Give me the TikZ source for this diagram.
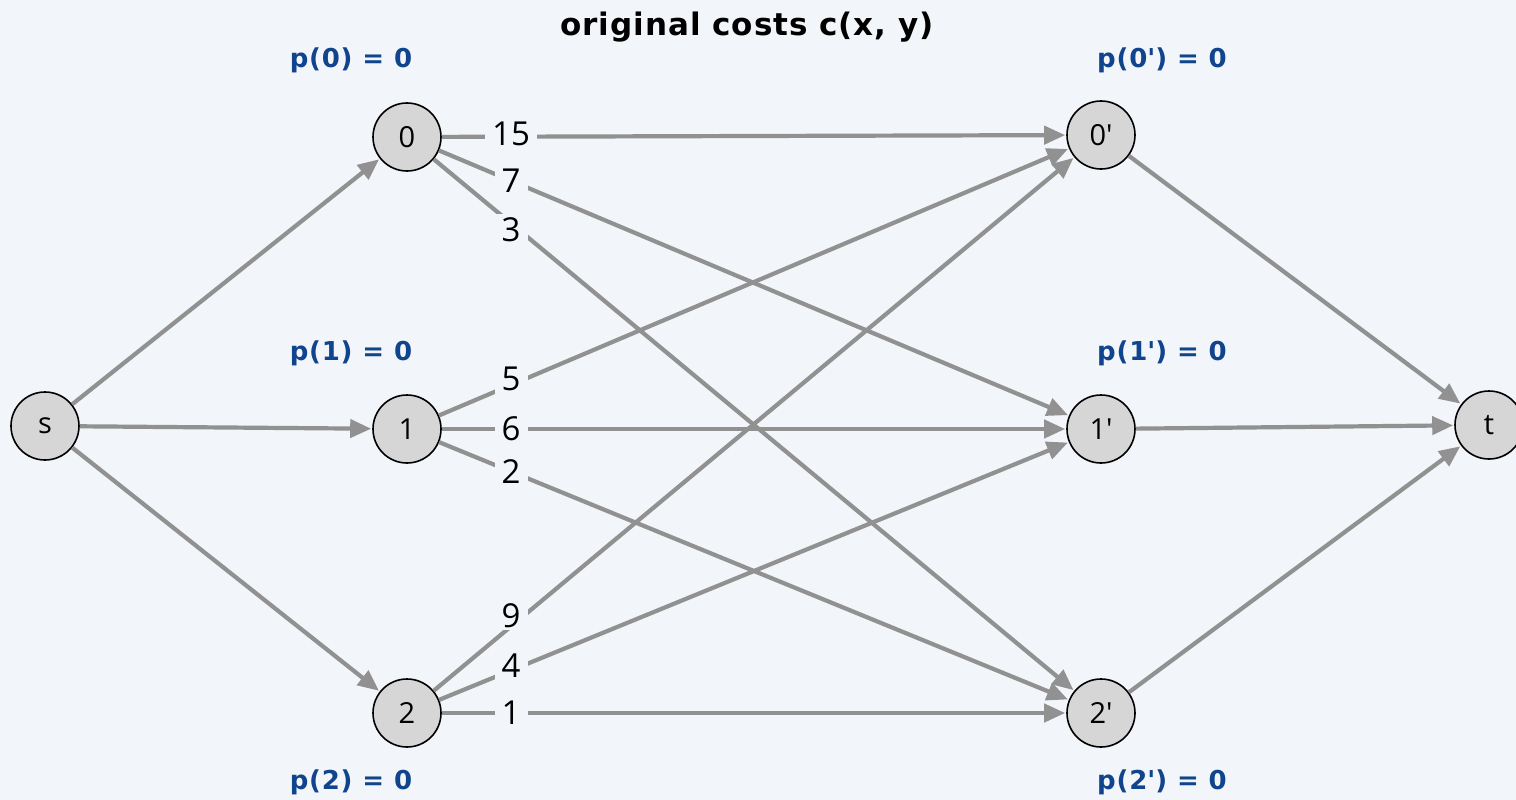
\documentclass[tikz,border=0pt]{standalone}
\usepackage{fontspec}
\setmainfont{Open Sans}
\newfontfamily\boldfam[LetterSpace=3]{DejaVu Sans}
\usetikzlibrary{arrows.meta}
\definecolor{bg}{RGB}{242,245,249}
\definecolor{edgegray}{RGB}{145,145,145}
\definecolor{nodefill}{RGB}{214,214,214}
\definecolor{potblue}{RGB}{16,68,140}
\newcommand{\pr}{\textquotesingle}
\tikzset{
  vtx/.style={circle,draw=black,line width=1.6pt,fill=nodefill,minimum size=68pt,inner sep=0pt,font=\fontsize{29}{30}\selectfont},
  arc/.style={draw=edgegray,line width=4.2pt,-{Triangle[length=21pt,width=18pt]},shorten >=1pt},
  cost/.style={fill=bg,inner xsep=7pt,inner ysep=3pt,font=\fontsize{33}{34}\selectfont},
  pot/.style={text=potblue,font=\boldfam\bfseries\fontsize{26}{28}\selectfont},
  ttl/.style={font=\boldfam\bfseries\fontsize{31}{34}\selectfont}
}
\begin{document}
\begin{tikzpicture}[x=1pt,y=-1pt]
\fill[bg] (0,0) rectangle (1516,800);
\useasboundingbox (0,0) rectangle (1516,800);
\node[ttl] (title) at (747,27) {original costs c(x, y)};
\node[vtx] (s) at (45,426) {s};
\node[vtx] (n0) at (407,137) {0};
\node[vtx] (n1) at (407,429) {1};
\node[vtx] (n2) at (407,713) {2};
\node[vtx] (m0) at (1101,135) {0\pr};
\node[vtx] (m1) at (1101,429) {1\pr};
\node[vtx] (m2) at (1101,713) {2\pr};
\node[vtx] (t) at (1489,425) {t};
\node[pot] (p0) at (351,60) {p(0) = 0};
\node[pot] (p1) at (351,353) {p(1) = 0};
\node[pot] (p2) at (351,782) {p(2) = 0};
\node[pot] (q0) at (1162,60) {p(0\pr) = 0};
\node[pot] (q1) at (1162,353) {p(1\pr) = 0};
\node[pot] (q2) at (1162,782) {p(2\pr) = 0};
\draw[arc] (s) -- (n0);
\draw[arc] (s) -- (n1);
\draw[arc] (s) -- (n2);
\draw[arc] (m0) -- (t);
\draw[arc] (m1) -- (t);
\draw[arc] (m2) -- (t);
\foreach \a/\b/\c/\d in {n0/m0/15/3,n0/m1/7/0,n0/m2/3/-6,n1/m0/5/6,n1/m1/6/0,n1/m2/2/0,n2/m0/9/11,n2/m1/4/5,n2/m2/1/0}{
  \draw[arc] (\a) -- (\b);
}
\foreach \a/\b/\c/\d in {n0/m0/15/3,n0/m1/7/0,n0/m2/3/-6,n1/m0/5/6,n1/m1/6/0,n1/m2/2/0,n2/m0/9/11,n2/m1/4/5,n2/m2/1/0}{
  \path (\a.center) -- (\b.center) node[cost,pos=0.15,yshift=\d pt] (l\a\b) {\c};
}
\end{tikzpicture}
\end{document}
